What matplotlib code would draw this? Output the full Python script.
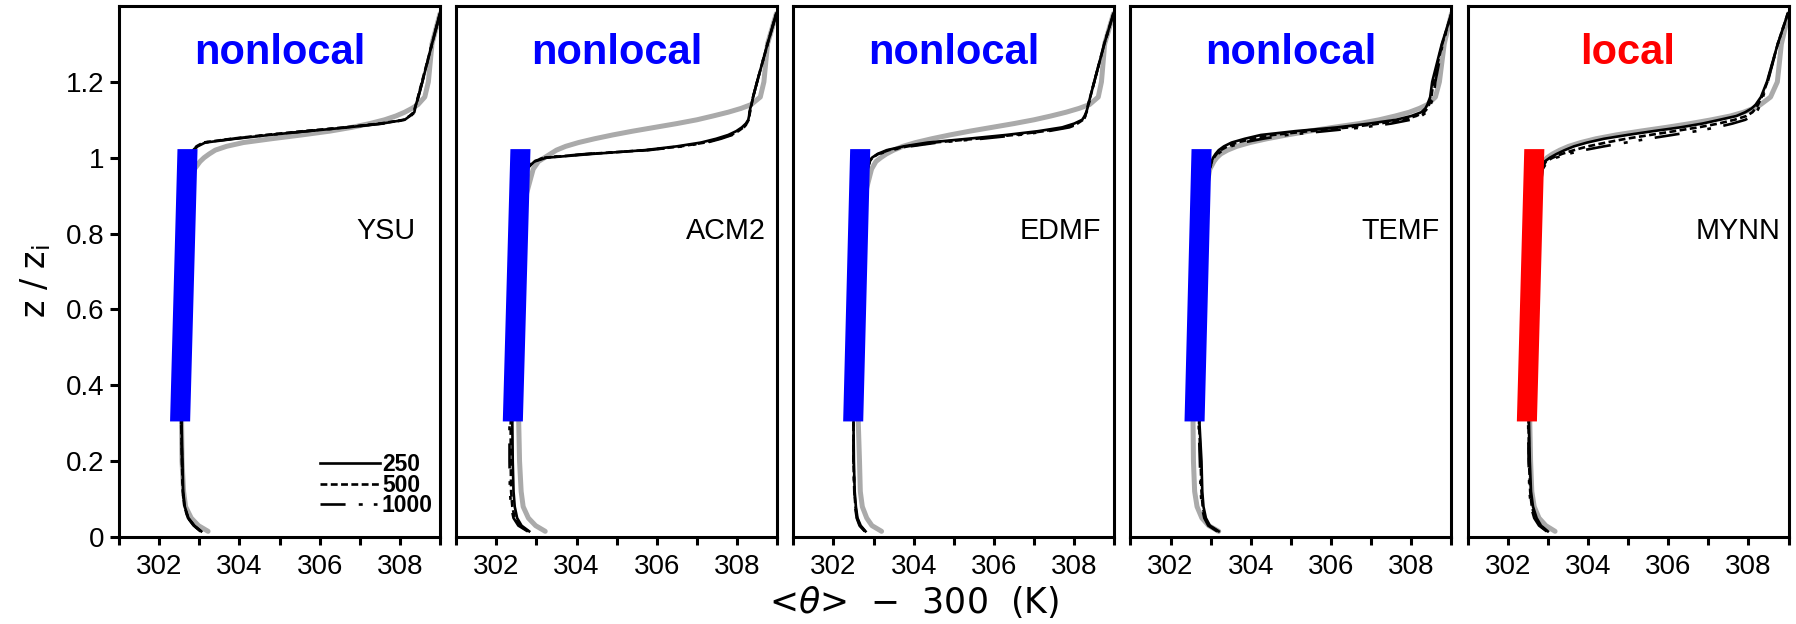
import numpy as np
import matplotlib
matplotlib.use('Agg')
import matplotlib.pyplot as plt
from matplotlib.ticker import FixedLocator

# normalised height z/zi shared by every profile
z_zi = [0.015, 0.03, 0.05, 0.08, 0.12, 0.20, 0.30, 0.60, 0.90, 0.97,
        0.99, 1.00, 1.01, 1.02, 1.03, 1.04, 1.05, 1.06, 1.07, 1.08,
        1.09, 1.10, 1.11, 1.12, 1.13, 1.14, 1.16, 1.20, 1.30, 1.38]

schemes = ['YSU', 'ACM2', 'EDMF', 'TEMF', 'MYNN']
closure = ['nonlocal', 'nonlocal', 'nonlocal', 'nonlocal', 'local']

# <theta> - 300 (K) : LES reference (grey) and the three grid spacings
ysu_les = [303.22, 302.98, 302.80, 302.66, 302.61, 302.57, 302.56, 302.60, 302.72, 302.88,
           303.02, 303.12, 303.25, 303.40, 303.68, 304.10, 304.80, 305.55, 306.25, 306.80,
           307.25, 307.62, 307.90, 308.12, 308.30, 308.45, 308.62, 308.71, 308.80, 309.00]
ysu_250 = [303.05, 302.88, 302.73, 302.64, 302.60, 302.58, 302.56, 302.62, 302.72, 302.77,
           302.79, 302.80, 302.83, 302.86, 302.96, 303.15, 303.90, 304.75, 305.70, 306.70,
           307.55, 308.12, 308.25, 308.36, 308.38, 308.40, 308.46, 308.56, 308.80, 309.00]
ysu_500 = [303.04, 302.87, 302.72, 302.63, 302.59, 302.57, 302.55, 302.61, 302.71, 302.76,
           302.78, 302.79, 302.82, 302.85, 302.93, 303.10, 303.80, 304.65, 305.60, 306.62,
           307.50, 308.10, 308.24, 308.35, 308.37, 308.40, 308.45, 308.55, 308.80, 309.00]
ysu_1000 = [303.03, 302.86, 302.72, 302.63, 302.59, 302.57, 302.55, 302.61, 302.71, 302.76,
            302.78, 302.79, 302.82, 302.85, 302.94, 303.12, 303.85, 304.72, 305.68, 306.70,
            307.58, 308.15, 308.27, 308.37, 308.38, 308.41, 308.46, 308.56, 308.80, 309.00]

acm2_les = [303.22, 302.98, 302.80, 302.67, 302.62, 302.58, 302.56, 302.60, 302.74, 302.92,
            303.05, 303.20, 303.35, 303.50, 303.73, 304.05, 304.45, 304.90, 305.40, 305.95,
            306.50, 307.00, 307.40, 307.78, 308.10, 308.35, 308.58, 308.67, 308.76, 308.98]
acm2_250 = [302.82, 302.63, 302.52, 302.46, 302.43, 302.41, 302.40, 302.50, 302.68, 302.76,
            302.95, 303.25, 304.40, 305.70, 306.50, 307.10, 307.48, 307.78, 307.98, 308.12,
            308.22, 308.28, 308.30, 308.31, 308.33, 308.36, 308.40, 308.50, 308.76, 308.98]
acm2_500 = [302.80, 302.58, 302.46, 302.40, 302.37, 302.36, 302.36, 302.47, 302.66, 302.75,
            302.93, 303.20, 304.30, 305.75, 306.60, 307.20, 307.55, 307.85, 308.03, 308.16,
            308.24, 308.29, 308.31, 308.32, 308.34, 308.36, 308.40, 308.50, 308.76, 308.98]
acm2_1000 = [302.78, 302.55, 302.43, 302.37, 302.34, 302.33, 302.33, 302.45, 302.65, 302.74,
             302.92, 303.18, 304.25, 305.80, 306.65, 307.25, 307.60, 307.88, 308.05, 308.17,
             308.25, 308.30, 308.31, 308.32, 308.34, 308.36, 308.40, 308.50, 308.76, 308.98]

edmf_les = [303.20, 302.96, 302.83, 302.72, 302.67, 302.65, 302.62, 302.64, 302.78, 302.95,
            303.06, 303.18, 303.32, 303.50, 303.73, 304.05, 304.45, 304.90, 305.40, 305.95,
            306.50, 307.00, 307.42, 307.80, 308.12, 308.38, 308.60, 308.68, 308.76, 308.98]
edmf_250 = [302.80, 302.68, 302.60, 302.56, 302.53, 302.51, 302.50, 302.57, 302.76, 302.85,
            302.90, 302.96, 303.10, 303.33, 303.75, 304.35, 305.35, 306.30, 307.10, 307.70,
            308.00, 308.20, 308.26, 308.30, 308.33, 308.35, 308.40, 308.50, 308.75, 308.98]
edmf_500 = [302.79, 302.66, 302.59, 302.55, 302.52, 302.50, 302.50, 302.57, 302.76, 302.85,
            302.90, 302.97, 303.12, 303.38, 303.85, 304.50, 305.55, 306.50, 307.25, 307.80,
            308.08, 308.22, 308.27, 308.31, 308.33, 308.35, 308.40, 308.50, 308.75, 308.98]
edmf_1000 = [302.78, 302.65, 302.58, 302.54, 302.52, 302.50, 302.50, 302.57, 302.76, 302.85,
             302.91, 302.98, 303.15, 303.42, 303.92, 304.60, 305.70, 306.62, 307.35, 307.88,
             308.12, 308.24, 308.28, 308.32, 308.34, 308.36, 308.40, 308.50, 308.75, 308.98]

temf_les = [303.20, 302.95, 302.78, 302.66, 302.60, 302.57, 302.56, 302.62, 302.85, 302.98,
            303.08, 303.15, 303.25, 303.42, 303.65, 303.98, 304.40, 304.90, 305.45, 306.05,
            306.70, 307.20, 307.60, 307.95, 308.20, 308.40, 308.60, 308.70, 308.82, 309.00]
temf_250 = [303.20, 302.98, 302.88, 302.82, 302.79, 302.77, 302.72, 302.80, 302.92, 302.97,
            303.02, 303.06, 303.12, 303.20, 303.33, 303.52, 303.85, 304.25, 305.10, 306.15,
            306.95, 307.62, 308.00, 308.25, 308.35, 308.40, 308.47, 308.52, 308.76, 309.00]
temf_500 = [303.18, 302.96, 302.86, 302.80, 302.77, 302.75, 302.71, 302.79, 302.92, 302.97,
            303.03, 303.08, 303.15, 303.25, 303.42, 303.65, 304.05, 304.55, 305.45, 306.45,
            307.20, 307.80, 308.12, 308.32, 308.40, 308.44, 308.50, 308.55, 308.77, 309.00]
temf_1000 = [303.16, 302.94, 302.84, 302.78, 302.75, 302.73, 302.70, 302.78, 302.91, 302.97,
             303.04, 303.10, 303.18, 303.30, 303.50, 303.80, 304.30, 304.90, 305.85, 306.80,
             307.50, 307.98, 308.25, 308.38, 308.44, 308.48, 308.55, 308.60, 308.78, 309.00]

mynn_les = [303.18, 302.95, 302.78, 302.66, 302.60, 302.57, 302.55, 302.60, 302.76, 302.84,
            302.90, 302.98, 303.12, 303.30, 303.52, 303.82, 304.20, 304.70, 305.30, 305.95,
            306.55, 307.08, 307.55, 307.88, 308.12, 308.30, 308.55, 308.72, 308.82, 309.00]
mynn_250 = [303.00, 302.83, 302.72, 302.63, 302.58, 302.55, 302.53, 302.60, 302.78, 302.84,
            302.92, 303.05, 303.22, 303.42, 303.65, 303.98, 304.40, 304.98, 305.62, 306.30,
            306.85, 307.28, 307.70, 307.92, 308.08, 308.18, 308.31, 308.46, 308.73, 308.98]
mynn_500 = [302.98, 302.80, 302.69, 302.60, 302.56, 302.53, 302.52, 302.60, 302.78, 302.85,
            302.95, 303.12, 303.35, 303.65, 304.00, 304.45, 304.95, 305.55, 306.15, 306.75,
            307.25, 307.65, 307.95, 308.10, 308.18, 308.24, 308.33, 308.47, 308.73, 308.98]
mynn_1000 = [302.97, 302.78, 302.66, 302.58, 302.54, 302.52, 302.51, 302.60, 302.79, 302.87,
             302.99, 303.20, 303.50, 303.90, 304.40, 304.95, 305.50, 306.10, 306.70, 307.20,
             307.60, 307.92, 308.10, 308.20, 308.25, 308.29, 308.36, 308.48, 308.73, 308.98]

# slanted bar over the mixed layer: centre theta at its base and at its top
bar_z = [0.306, 1.024]
bar_base = [302.51, 302.40, 302.48, 302.585, 302.465]
bar_top = [302.695, 302.59, 302.655, 302.76, 302.65]

les = [ysu_les, acm2_les, edmf_les, temf_les, mynn_les]
run250 = [ysu_250, acm2_250, edmf_250, temf_250, mynn_250]
run500 = [ysu_500, acm2_500, edmf_500, temf_500, mynn_500]
run1000 = [ysu_1000, acm2_1000, edmf_1000, temf_1000, mynn_1000]

closure_color = {'nonlocal': '#0000ff', 'local': '#ff0000'}
name_x = [308.40, 308.73, 308.66, 308.71, 308.80]

W, H = 1796, 624
fig = plt.figure(figsize=(W / 100, H / 100), dpi=100)

ax_w = 321 / W
ax_b = (H - 537) / H
ax_h = 531 / H
axes = [fig.add_axes([(119 + i * 337.15) / W, ax_b, ax_w, ax_h]) for i in range(5)]

half_w = 0.25
for i, ax in enumerate(axes):
    ax.plot(les[i], z_zi, color='#aaaaaa', lw=3.6, solid_capstyle='round', zorder=2)
    ax.plot(run250[i], z_zi, color='k', lw=1.9, label='250', zorder=3)
    ax.plot(run500[i], z_zi, color='k', lw=1.9, ls=(0, (2.6, 1.3)), label='500', zorder=3)
    ax.plot(run1000[i], z_zi, color='k', lw=1.9,
            ls=(0, (9.5, 5.0, 1.5, 4.2, 1.4, 4.8)), label='1000', zorder=3)

    c = closure_color[closure[i]]
    ax.fill_betweenx(bar_z, [bar_base[i] - half_w, bar_top[i] - half_w],
                     [bar_base[i] + half_w, bar_top[i] + half_w],
                     color=c, lw=0, zorder=4)

    ax.text(305.0, 1.248, closure[i], ha='center', va='baseline', color=c,
            fontsize=30, fontweight='bold', family='Liberation Sans')
    ax.text(name_x[i], 0.786, schemes[i], ha='right', va='baseline',
            fontsize=20.7, family='Liberation Sans')

    ax.set_xlim(301, 309)
    ax.set_ylim(0, 1.4)
    ax.xaxis.set_major_locator(FixedLocator([302, 304, 306, 308]))
    ax.xaxis.set_minor_locator(FixedLocator([301, 303, 305, 307, 309]))
    ax.tick_params(axis='x', which='both', direction='out', length=6, width=2.2,
                   labelsize=20, pad=6, top=False)
    for lbl in ax.get_xticklabels():
        lbl.set_family('Liberation Sans')
    for sp in ax.spines.values():
        sp.set_linewidth(2.2)

    if i == 0:
        ax.set_yticks([0, 0.2, 0.4, 0.6, 0.8, 1.0, 1.2])
        ax.set_yticklabels(['0', '0.2', '0.4', '0.6', '0.8', '1', '1.2'],
                           family='Liberation Sans')
        ax.tick_params(axis='y', direction='out', length=6.5, width=2.2,
                       labelsize=20, pad=4, right=False)
        leg = ax.legend(loc='lower right', bbox_to_anchor=(0.978, 0.037),
                        frameon=False, handlelength=2.6, handletextpad=0.1,
                        labelspacing=-0.1, borderpad=0, borderaxespad=0,
                        prop={'family': 'Liberation Sans', 'weight': 'bold', 'size': 16.5})
    else:
        ax.set_yticks([])

fig.text(0.02, 0.55, r'z / z$_\mathregular{i}$', rotation=90, ha='center', va='center',
         fontsize=24, family='DejaVu Sans')
fig.text(0.509, 0.035, r'<$\theta$>  $-$  300  (K)', ha='center', va='center',
         fontsize=25, family='DejaVu Sans')

fig.savefig('out.png', dpi=100)
